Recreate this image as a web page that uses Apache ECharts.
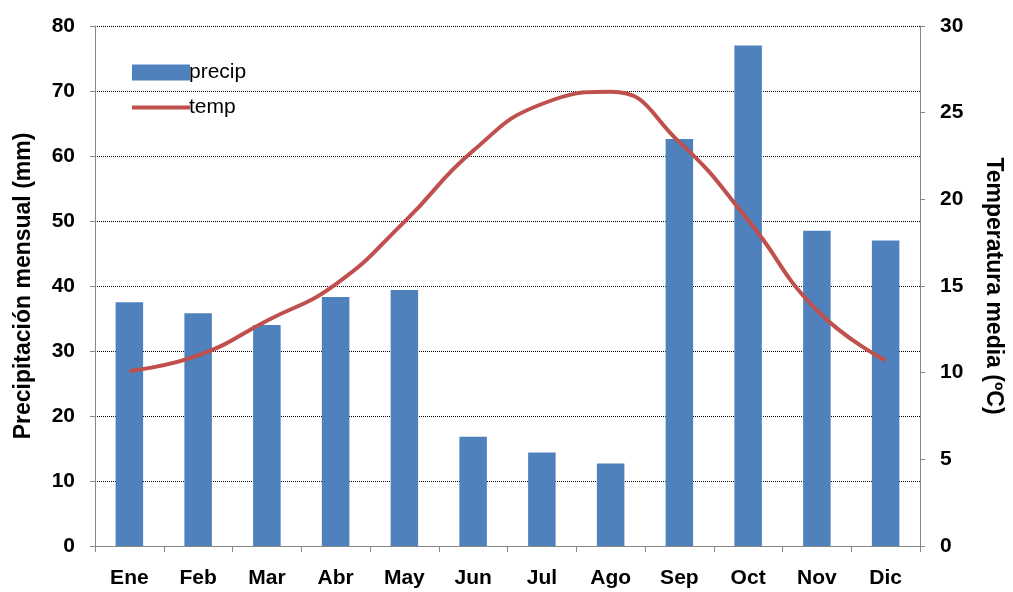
<!DOCTYPE html>
<html><head><meta charset="utf-8">
<script src="https://cdn.jsdelivr.net/npm/echarts@6/dist/echarts.min.js"></script>
<style>html,body{margin:0;background:#fff}#c{width:1013px;height:592px}</style>
</head><body><div id="c"></div>
<script>
const months = ['Ene','Feb','Mar','Abr','May','Jun','Jul','Ago','Sep','Oct','Nov','Dic'];
const precip = [37.5, 35.8, 34.0, 38.3, 39.4, 16.8, 14.4, 12.7, 62.6, 77.0, 48.5, 47.0];
const temp = [10.1, 11.0, 13.0, 15.1, 18.7, 22.8, 25.5, 26.2, 23.3, 18.8, 13.6, 10.7];

const font = 'Liberation Sans, Arial, sans-serif';
const lbl = {fontFamily: font, fontSize: 21, fontWeight: 'bold', color: '#000'};
const chart = echarts.init(document.getElementById('c'));
chart.setOption({
    animation: false,
    grid: {left: 95, right: 86, top: 26, bottom: 46},
    legend: {
        left: 125, top: 57, orient: 'vertical', itemGap: 14,
        itemWidth: 58, itemHeight: 16,
        textStyle: {fontFamily: font, fontSize: 21, color: '#000', padding: [0, 0, 0, -6]},
        data: [{name: 'precip', icon: 'rect'},
               {name: 'temp', itemStyle: {opacity: 0}, lineStyle: {width: 4, color: '#C0504D'}}]
    },
    xAxis: {
        type: 'category', data: months,
        axisLine: {lineStyle: {color: '#888'}},
        axisTick: {show: true, lineStyle: {color: '#888'}, length: 6},
        axisLabel: Object.assign({margin: 22}, lbl)
    },
    yAxis: [{
        type: 'value', min: 0, max: 80, interval: 10,
        name: 'Precipitación mensual (mm)', nameLocation: 'middle', nameGap: 60,
        nameTextStyle: Object.assign({}, lbl, {fontSize: 23}),
        axisLine: {show: true, lineStyle: {color: '#888'}},
        axisTick: {show: true, lineStyle: {color: '#888'}},
        axisLabel: Object.assign({margin: 20}, lbl),
        splitLine: {lineStyle: {color: '#000', type: 'dotted'}}
    }, {
        type: 'value', min: 0, max: 30, interval: 5,
        name: 'Temperatura media (ºC)', nameLocation: 'middle', nameGap: 62, nameRotate: -90,
        nameTextStyle: Object.assign({}, lbl, {fontSize: 23}),
        axisLine: {show: true, lineStyle: {color: '#888'}},
        axisTick: {show: true, lineStyle: {color: '#888'}},
        axisLabel: Object.assign({margin: 20}, lbl),
        splitLine: {show: false}
    }],
    series: [{
        name: 'precip', type: 'bar', data: precip, barWidth: '40%',
        itemStyle: {color: '#4F81BD'}
    }, {
        name: 'temp', type: 'line', yAxisIndex: 1, data: temp, smooth: 0.5,
        symbol: 'none', lineStyle: {color: '#C0504D', width: 4},
        itemStyle: {color: '#C0504D'}
    }]
});
</script></body></html>
